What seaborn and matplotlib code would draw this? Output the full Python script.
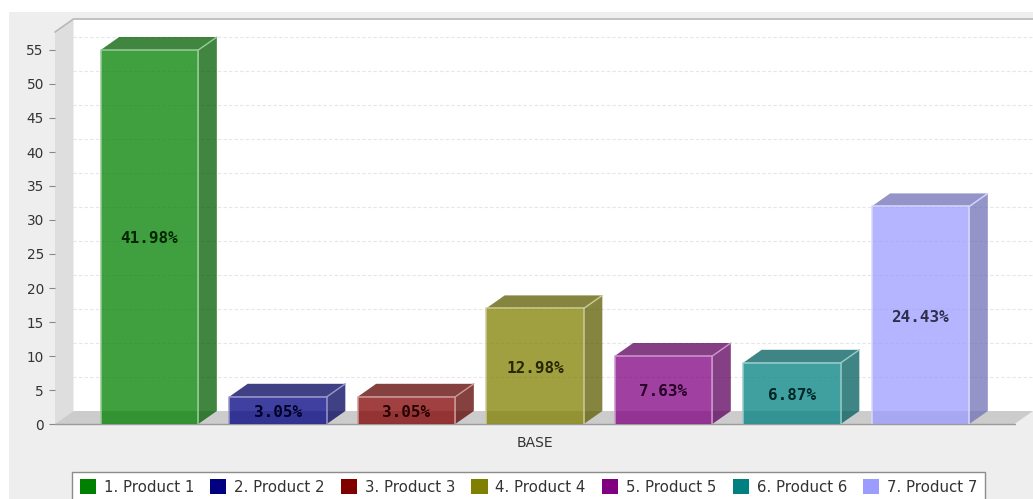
import matplotlib
matplotlib.use("Agg")
import matplotlib.pyplot as plt
import numpy as np
import seaborn as sns
from matplotlib.patches import Patch, Polygon, Rectangle
from matplotlib.colors import to_rgb

products = ["1. Product 1", "2. Product 2", "3. Product 3", "4. Product 4",
            "5. Product 5", "6. Product 6", "7. Product 7"]
values = [55, 4, 4, 17, 10, 9, 32]
shares = ["41.98%", "3.05%", "3.05%", "12.98%", "7.63%", "6.87%", "24.43%"]
colors = ["#008000", "#000080", "#800000", "#808000", "#800080", "#008080", "#9C9CFF"]
y_ticks = list(range(0, 60, 5))
x_title = "BASE"

W, H = 1033, 499
sns.set_theme(style="white")
plt.rcParams["font.family"] = ["DejaVu Sans"]

fig = plt.figure(figsize=(W / 100, H / 100), dpi=100, facecolor="white")
fig.add_artist(Rectangle((9 / W, 0), 1, 1 - 12 / H, transform=fig.transFigure,
                         facecolor="#EEEEEE", edgecolor="none", zorder=-5))

# axes frame in pixels
L, R, B, T = 55, 1033, 424, 19
ax = fig.add_axes([L / W, 1 - B / H, (R - L) / W, (B - T) / H])
ax.patch.set_visible(False)
px_per_y = 6.8
px_per_x = 128.5
first_center = 149.5
ax.set_ylim(0, (B - T) / px_per_y)
ax.set_xlim(-(first_center - L) / px_per_x, (R - first_center) / px_per_x)
dx = 18.5 / px_per_x
dy = 13 / px_per_y
x0, x1 = ax.get_xlim()
y0, y1 = ax.get_ylim()
front_right = x1 - dx

# walls and floor
ax.add_patch(Polygon([(x0 + dx, dy), (x1, dy), (x1, y1), (x0 + dx, y1)],
                     facecolor="white", edgecolor="none", zorder=0))
ax.plot([x0, x0 + dx, x1], [y1 - dy, y1, y1], color="#B8B8B8", lw=1.2, zorder=1, clip_on=False)
ax.add_patch(Polygon([(x0, 0), (x0 + dx, dy), (x0 + dx, y1), (x0, y1 - dy)],
                     facecolor="#DEDEDE", edgecolor="none", zorder=0.5))
ax.add_patch(Polygon([(x0, 0), (front_right, 0), (x1, dy), (x0 + dx, dy)],
                     facecolor="#CCCCCC", edgecolor="none", zorder=0.5))
for t in y_ticks[1:]:
    ax.plot([x0 + dx, x1], [t + dy, t + dy], color="#E6E6E6", lw=0.8,
            ls=(0, (3, 2)), zorder=0.6)

# bars
sns.barplot(x=products, y=values, hue=products, palette=colors, hue_order=products,
            order=products, width=0.76, saturation=1, dodge=False, legend=False,
            ax=ax, zorder=3)
ax.set_xlim(x0, x1)
ax.set_ylim(y0, y1)

for container, col, share in zip(ax.containers, colors, shares):
    rgb = np.array(to_rgb(col))
    light = rgb * 0.4 + 0.6
    dark = rgb * 0.72
    for p in container:
        xa, w, h = p.get_x(), p.get_width(), p.get_height()
        p.set_facecolor((*rgb, 0.75))
        p.set_edgecolor("none")
        ax.add_patch(Polygon([(xa + w, 0), (xa + w + dx, dy), (xa + w + dx, h + dy), (xa + w, h)],
                             facecolor=(*dark, 0.75), edgecolor="none", zorder=2.5))
        ax.add_patch(Polygon([(xa, h), (xa + w, h), (xa + w + dx, h + dy), (xa + dx, h + dy)],
                             facecolor=(*dark, 0.75), edgecolor="none", zorder=2.5))
        ax.plot([xa, xa, xa + w, xa + w], [0, h, h, 0], color=light, lw=1.1, zorder=4)
        ax.plot([xa + w, xa + w + dx], [h, h + dy], color=light, lw=1.0, zorder=4)
    for lab in ax.bar_label(container, labels=[share], label_type="center",
                            family="DejaVu Sans Mono", fontweight="bold", fontsize=11.5,
                            color=tuple(rgb * 0.3), zorder=6):
        lab.xyann = (0, -1.4)

# axes furniture
sns.despine(ax=ax, left=True, bottom=True, right=True, top=True)
ax.plot([x0, front_right], [0, 0], color="#9A9A9A", lw=1, zorder=2, clip_on=False)
ax.set_yticks(y_ticks)
ax.tick_params(axis="y", left=True, length=4, width=0.8, color="#888888",
               labelcolor="#333333", labelsize=9.8, pad=4)
ax.set_xticks([])
ax.set_xlabel(x_title, fontsize=10, color="#333333")
ax.xaxis.set_label_coords((535 - L) / (R - L), -12 / (B - T), transform=ax.transAxes)
ax.xaxis.label.set_verticalalignment("top")

handles = [Patch(facecolor=c, edgecolor="none", label=n) for n, c in zip(products, colors)]
leg = fig.legend(handles=handles, ncol=7, loc="upper left", frameon=True,
                 bbox_to_anchor=(72 / W, 1 - 472 / H), fontsize=10.8,
                 handlelength=1.07, handleheight=1.07, handletextpad=0.53, columnspacing=1.08,
                 borderpad=0.5, borderaxespad=0, labelcolor="#333333",
                 fancybox=False, framealpha=1, facecolor="white", edgecolor="#8C8C8C")
leg.get_frame().set_linewidth(1)

fig.savefig("out.png", dpi=100, facecolor=fig.get_facecolor())
